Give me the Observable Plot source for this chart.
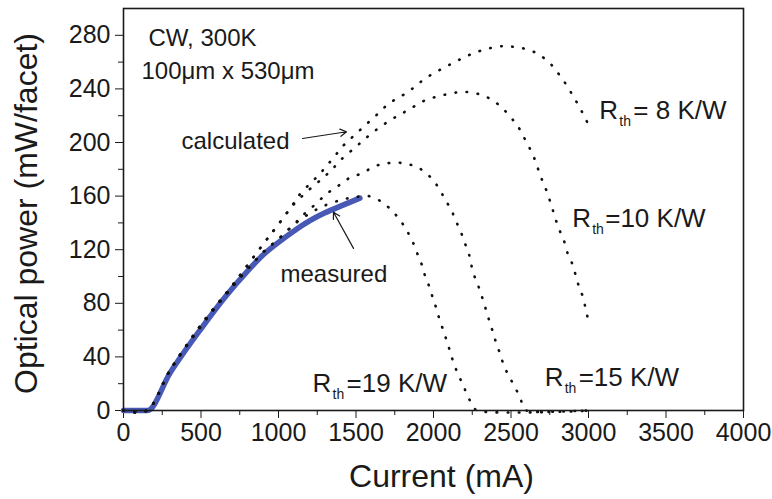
<!DOCTYPE html>
<html><head><meta charset="utf-8">
<script src="https://cdn.jsdelivr.net/npm/d3@7"></script>
<script src="https://cdn.jsdelivr.net/npm/@observablehq/plot@0.6"></script>
<style>body{margin:0;background:#fff;} svg{font-family:"Liberation Sans",Arial,sans-serif;}</style>
</head><body><div id="chart"></div>
<script>
// ---- data ----
const xTicks = [0, 500, 1000, 1500, 2000, 2500, 3000, 3500, 4000];
const xMinor = [250, 750, 1250, 1750, 2250, 2750, 3250, 3750];
const yTicks = [0, 40, 80, 120, 160, 200, 240, 280];
const yMinor = [20, 60, 100, 140, 180, 220, 260];

const measuredI = [0, 140, 155, 300, 500, 665, 800, 900, 1000, 1100, 1200, 1300, 1400, 1525];
const measuredP = [0, 0, 0, 28, 61, 86, 104, 116, 125.5, 134, 141.5, 147.5, 152.5, 158.5];

const rth8I = [0,150,300,500,700,900,1000,1100,1142,1228,1292,1357,1421,1486,1561,1637,1712,1798,1873,1937,2013,2088,2163,2239,2310,2389,2465,2535,2608,2679,2755,2815,2863,2905,2944,2981,3000];
const rth8P = [0,0,30,64,93,124,139,155,162,172,180,189,198,205,213,221,229,235,241,247,252.5,257,261.6,265.7,268.7,271,272,271,269.4,265.7,258.7,250,242,233.8,226,217.7,213];

const rth10I = [0,150,300,500,700,900,1000,1100,1200,1282,1346,1411,1497,1561,1637,1712,1787,1862,1937,2013,2088,2163,2234,2310,2378,2450,2518,2561,2600,2637,2665,2690,2716,2744,2766,2787,2815,2841,2863,2895,2916,2937,2963,2987,3000];
const rth10P = [0,0,30,64,93,124,139,154,165,173,180,188,196.5,203,210,216,221,226,231,234,236,237.5,237.5,235.5,231.8,225,216,209,200,192,183.6,175,168,159,151,143,134,127,118,109.5,101.5,93,85,73,67];

const rth15I = [0,150,300,500,700,900,1000,1092,1160,1239,1314,1390,1465,1540,1615,1680,1755,1830,1905,1981,2034,2077,2114,2142,2174,2202,2228,2243,2265,2292,2314,2357,2379,2400,2426,2450,2480,2518,2553,2583,2600,3000];
const rth15P = [0,0,30,63,92,118,128,138,146,154,162,168,174,177,182,184,185,184,181,174,166,157,150,142,134,125,117,109,100,92,84.5,68,60,52,43.5,35,27,19,11,2.5,0,0];

const rth19I = [0,150,300,500,700,900,1000,1092,1200,1300,1400,1480,1560,1594,1662,1733,1791,1834,1869,1899,1927,1948,1976,1998,2019,2041,2066,2088,2110,2131,2163,2192,2224,2260,2280,3000];
const rth19P = [0,0,30,63,92,118,128,138,147,153,157,159,160,159.7,156,149,141,133,125,116,108,99.5,91.5,83,76,67,59,51,43,35,26,18.7,10,2.5,0,0];

// annotation texts
const noteText = ["CW, 300K", "100\u03bcm x 530\u03bcm", "calculated", "measured"];
const noteI = [161, 116, 374, 1013];
const noteP = [278, 253, 201, 102];

const arrowFromI = [1155, 1484];
const arrowFromP = [203, 121];
const arrowToI = [1439, 1355];
const arrowToP = [208, 148];

const rthRest = ["= 8 K/W", "=10 K/W", "=19 K/W", "=15 K/W"];
const rthI = [3070, 2895, 1220, 2717];
const rthP = [224, 143, 20, 24.6];
const rthSubDx = [20, 20, 20, 20];
const rthRestDx = [34, 33, 34, 34];

// ---- tables ----
const measured = measuredI.map((d, i) => ({I: d, P: measuredP[i]}));
const calc = [
  [rth8I, rth8P, "8"], [rth10I, rth10P, "10"], [rth15I, rth15P, "15"], [rth19I, rth19P, "19"]
].flatMap(([xs, ys, k]) => xs.map((d, i) => ({I: d, P: ys[i], k})));
const notes = noteText.map((t, i) => ({t, I: noteI[i], P: noteP[i]}));
const arrows = arrowFromI.map((d, i) => ({x1: d, y1: arrowFromP[i], x2: arrowToI[i], y2: arrowToP[i]}));
const rth = rthRest.map((t, i) => ({t, I: rthI[i], P: rthP[i], sdx: rthSubDx[i], rdx: rthRestDx[i]}));

const font = "Liberation Sans, Arial, Helvetica, sans-serif";
const ink = "#1a1a1a";

const rthMarks = rth.flatMap(d => [
  Plot.text([d], {x: "I", y: "P", text: () => "R", textAnchor: "start", fontSize: 26, fill: ink}),
  Plot.text([d], {x: "I", y: "P", text: () => "th", textAnchor: "start", fontSize: 14, fill: ink, dx: d.sdx, dy: 11}),
  Plot.text([d], {x: "I", y: "P", text: "t", textAnchor: "start", fontSize: 26, fill: ink, dx: d.rdx})
]);

const chart = Plot.plot({
  width: 772, height: 499,
  marginLeft: 123, marginRight: 29, marginTop: 8, marginBottom: 89,
  style: {fontFamily: font, background: "#fff", color: ink},
  x: {domain: [0, 4000]},
  y: {domain: [0, 300]},
  marks: [
    Plot.axisX(xTicks, {tickSize: 8, tickPadding: 5, fontSize: 25, label: null, stroke: ink, tickFormat: d3.format("d")}),
    Plot.axisX(xMinor, {tickSize: 5, tickFormat: () => "", label: null, stroke: ink}),
    Plot.axisY(yTicks, {tickSize: 8, tickPadding: 5, fontSize: 25, label: null, stroke: ink, tickFormat: d3.format("d")}),
    Plot.axisY(yMinor, {tickSize: 5, tickFormat: () => "", label: null, stroke: ink}),
    Plot.text(["Current (mA)"], {frameAnchor: "bottom", textAnchor: "middle", dy: 76, dx: 8, fontSize: 32, fill: ink}),
    Plot.text(["Optical power (mW/facet)"], {frameAnchor: "left", textAnchor: "middle", rotate: -90, dx: -97, dy: 4, fontSize: 32, fill: ink}),
    Plot.line(measured, {x: "I", y: "P", stroke: "#4759b5", strokeWidth: 5.5, strokeLinejoin: "round", curve: "monotone-x"}),
    Plot.line(calc, {x: "I", y: "P", z: "k", stroke: "#111", strokeWidth: 2.6, strokeDasharray: "0.6 10.5", strokeLinecap: "round", curve: "catmull-rom"}),
    Plot.frame({stroke: ink, strokeWidth: 1.6}),
    Plot.text(notes, {x: "I", y: "P", text: "t", textAnchor: "start", fontSize: 24, fill: ink}),
    Plot.arrow(arrows, {x1: "x1", y1: "y1", x2: "x2", y2: "y2", stroke: ink, strokeWidth: 1.2, headLength: 9}),
    ...rthMarks
  ]
});
document.getElementById("chart").append(chart);
</script>
</body></html>
